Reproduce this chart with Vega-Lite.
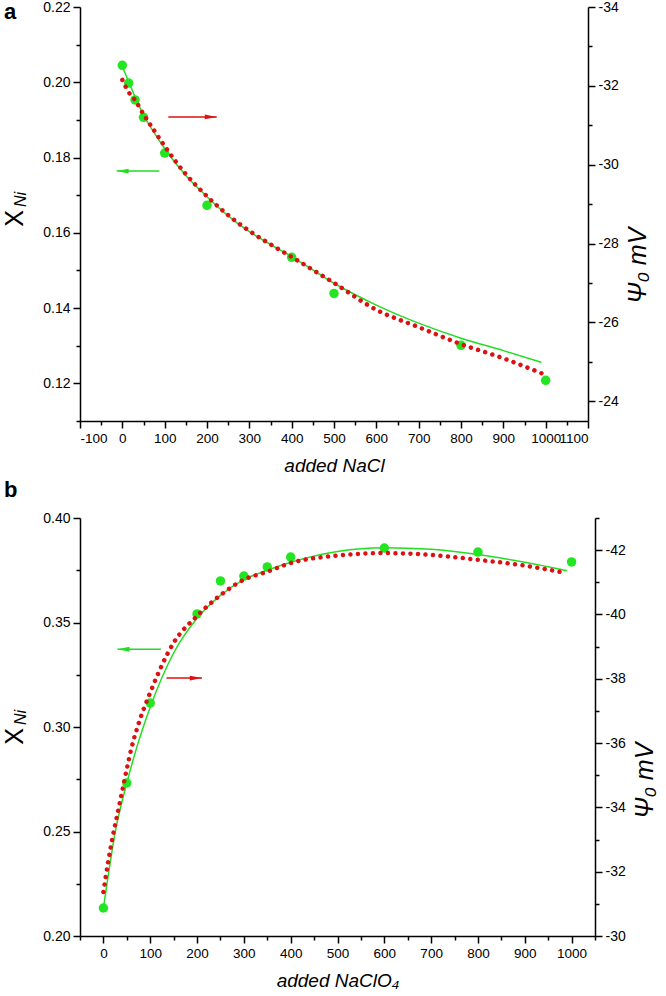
{
  "$schema": "https://vega.github.io/schema/vega-lite/v6.json",
  "background": "white",
  "padding": {"left": 2, "top": 0, "right": 0, "bottom": 0},
  "spacing": 97,
  "bounds": "flush",
  "config": {
    "font": "Liberation Sans",
    "view": {"stroke": null},
    "axis": {
      "grid": false,
      "domainColor": "black",
      "domainWidth": 1.5,
      "tickColor": "black",
      "tickWidth": 1.5,
      "labelFont": "Liberation Sans",
      "labelFontSize": 14,
      "labelColor": "black",
      "labelPadding": 3,
      "labelOverlap": false,
      "titleFont": "Liberation Sans",
      "titleFontWeight": "normal",
      "titleFontStyle": "italic",
      "titleColor": "black",
      "titleFontSize": 19
    },
    "axisX": {"labelFontSize": 13.5},
    "title": {"font": "Liberation Sans", "fontSize": 22, "fontWeight": "bold", "color": "black"}
  },
  "datasets": {
    "ptsA": [
      {"x": 0, "y": 0.2045}, {"x": 15, "y": 0.1998}, {"x": 30, "y": 0.1953},
      {"x": 50, "y": 0.1907}, {"x": 100, "y": 0.1812}, {"x": 200, "y": 0.1673},
      {"x": 400, "y": 0.1535}, {"x": 500, "y": 0.1439}, {"x": 800, "y": 0.1301},
      {"x": 1000, "y": 0.1208}
    ],
    "fitA": [
      {"x": 0, "y": 0.2042}, {"x": 25, "y": 0.1975}, {"x": 50, "y": 0.1913},
      {"x": 75, "y": 0.1866}, {"x": 100, "y": 0.1824}, {"x": 150, "y": 0.1752},
      {"x": 200, "y": 0.1696}, {"x": 250, "y": 0.1645}, {"x": 300, "y": 0.1603},
      {"x": 350, "y": 0.1569}, {"x": 400, "y": 0.1537}, {"x": 500, "y": 0.1466},
      {"x": 600, "y": 0.1408}, {"x": 700, "y": 0.136}, {"x": 800, "y": 0.132},
      {"x": 900, "y": 0.1287}, {"x": 990, "y": 0.1256}
    ],
    "psiA": [
      {"x": 0, "psi": -32.15}, {"x": 15, "psi": -31.84}, {"x": 30, "psi": -31.64},
      {"x": 50, "psi": -31.28}, {"x": 75, "psi": -30.87}, {"x": 100, "psi": -30.47},
      {"x": 150, "psi": -29.76}, {"x": 200, "psi": -29.2}, {"x": 250, "psi": -28.72},
      {"x": 300, "psi": -28.32}, {"x": 350, "psi": -27.98}, {"x": 400, "psi": -27.66},
      {"x": 500, "psi": -27.0}, {"x": 600, "psi": -26.32}, {"x": 700, "psi": -25.88},
      {"x": 800, "psi": -25.45}, {"x": 900, "psi": -25.09}, {"x": 990, "psi": -24.71}
    ],
    "arrowsA": [
      {"x": 87.3, "x2": -13.3, "y": 0.1764, "side": "left"},
      {"x": 108.6, "x2": 223, "y": 0.1908, "side": "right"}
    ],
    "headsA": [
      {"x": 0.7, "y": 0.1764, "side": "left"},
      {"x": 209, "y": 0.1908, "side": "right"}
    ],
    "ptsB": [
      {"x": 0, "y": 0.2134}, {"x": 50, "y": 0.2732}, {"x": 100, "y": 0.3115},
      {"x": 200, "y": 0.3541}, {"x": 250, "y": 0.3699}, {"x": 300, "y": 0.3722},
      {"x": 350, "y": 0.3766}, {"x": 400, "y": 0.3813}, {"x": 600, "y": 0.3856},
      {"x": 800, "y": 0.3837}, {"x": 1000, "y": 0.379}
    ],
    "fitB": [
      {"x": 0, "y": 0.2134}, {"x": 10, "y": 0.2285}, {"x": 25, "y": 0.2495},
      {"x": 50, "y": 0.2732}, {"x": 75, "y": 0.293}, {"x": 100, "y": 0.3095},
      {"x": 150, "y": 0.3354}, {"x": 200, "y": 0.352}, {"x": 250, "y": 0.363},
      {"x": 300, "y": 0.3705}, {"x": 350, "y": 0.375}, {"x": 400, "y": 0.3788},
      {"x": 500, "y": 0.384}, {"x": 600, "y": 0.3858}, {"x": 700, "y": 0.385},
      {"x": 800, "y": 0.3825}, {"x": 900, "y": 0.3788}, {"x": 990, "y": 0.3748}
    ],
    "psiB": [
      {"x": 0, "psi": -31.37}, {"x": 10, "psi": -32.3}, {"x": 20, "psi": -33.1},
      {"x": 30, "psi": -33.8}, {"x": 40, "psi": -34.5}, {"x": 50, "psi": -35.2},
      {"x": 60, "psi": -35.85}, {"x": 75, "psi": -36.6}, {"x": 100, "psi": -37.57},
      {"x": 150, "psi": -39.12}, {"x": 200, "psi": -39.95}, {"x": 250, "psi": -40.6},
      {"x": 300, "psi": -41.08}, {"x": 350, "psi": -41.33}, {"x": 400, "psi": -41.6},
      {"x": 500, "psi": -41.83}, {"x": 600, "psi": -41.91}, {"x": 700, "psi": -41.85},
      {"x": 800, "psi": -41.7}, {"x": 900, "psi": -41.52}, {"x": 987, "psi": -41.29}
    ],
    "arrowsB": [
      {"x": 122.7, "x2": 29.9, "y": 0.3372, "side": "left"},
      {"x": 134.7, "x2": 210.4, "y": 0.3234, "side": "right"}
    ],
    "headsB": [
      {"x": 42.9, "y": 0.3372, "side": "left"},
      {"x": 197.4, "y": 0.3234, "side": "right"}
    ]
  },
  "vconcat": [
    {
      "width": 508,
      "height": 414,
      "title": {"text": "a", "anchor": "start", "frame": "group", "dx": -76, "offset": -24},
      "encoding": {
        "x": {
          "field": "x",
          "type": "quantitative",
          "scale": {"domain": [-100, 1100], "nice": false, "zero": false},
          "axis": {
            "title": "added NaCl",
            "titlePadding": 12,
            "values": [-100, -50, 0, 50, 100, 150, 200, 250, 300, 350, 400, 450, 500, 550, 600, 650, 700, 750, 800, 850, 900, 950, 1000, 1050, 1100],
            "labelExpr": "datum.value % 100 == 0 ? (datum.value < 0 ? '-' : '') + abs(datum.value) : ''",
            "tickSize": {"condition": {"test": "datum.value % 100 == 0", "value": 7}, "value": 4}
          }
        }
      },
      "layer": [
        {
          "encoding": {
            "y": {
              "field": "y",
              "type": "quantitative",
              "scale": {"domain": [0.11, 0.22], "nice": false, "zero": false},
              "axis": {
                "orient": "left",
                "values": [0.11, 0.12, 0.13, 0.14, 0.15, 0.16, 0.17, 0.18, 0.19, 0.2, 0.21, 0.22],
                "labelExpr": "round(datum.value * 100) % 2 == 0 ? format(datum.value, '.2f') : ''",
                "tickSize": {"condition": {"test": "round(datum.value * 100) % 2 == 0", "value": 7}, "value": 4},
                "title": "X",
                "titleFontSize": 25,
                "titleFontStyle": "normal",
                "titleAngle": 270,
                "titleAlign": "center",
                "titleBaseline": "alphabetic",
                "titleX": -58,
                "titleY": 211
              }
            }
          },
          "layer": [
            {
              "data": {"name": "fitA"},
              "mark": {"type": "line", "color": "#22dd22", "strokeWidth": 1.5, "interpolate": "monotone"}
            },
            {
              "data": {"name": "ptsA"},
              "mark": {"type": "point", "filled": true, "color": "#22e622", "opacity": 1, "size": 90}
            }
          ]
        },
        {
          "data": {"name": "psiA"},
          "mark": {"type": "line", "color": "#dd1111", "strokeWidth": 4.5, "strokeCap": "round", "strokeDash": [0.01, 7.5], "interpolate": "monotone"},
          "encoding": {
            "y": {
              "field": "psi",
              "type": "quantitative",
              "scale": {"domain": [-23.5, -34], "nice": false, "zero": false},
              "axis": {
                "orient": "right",
                "values": [-34, -33, -32, -31, -30, -29, -28, -27, -26, -25, -24],
                "labelExpr": "datum.value % 2 == 0 ? '-' + abs(datum.value) : ''",
                "tickSize": {"condition": {"test": "datum.value % 2 == 0", "value": 7}, "value": 4},
                "title": "Ψ₀ mV",
                "titleFontSize": 25,
                "titleAngle": 270,
                "titleAlign": "center",
                "titleBaseline": "alphabetic",
                "titleX": 57,
                "titleY": 258
              }
            }
          }
        },
        {
          "encoding": {
            "y": {
              "field": "y",
              "type": "quantitative",
              "scale": {"domain": [0.11, 0.22], "nice": false, "zero": false},
              "axis": {
                "orient": "left",
                "labels": false,
                "ticks": false,
                "domain": false,
                "title": "Ni",
                "titleFontSize": 16,
                "titleFontStyle": "italic",
                "titleAngle": 270,
                "titleAlign": "center",
                "titleBaseline": "alphabetic",
                "titleX": -55,
                "titleY": 192
              }
            },
            "color": {
              "field": "side",
              "type": "nominal",
              "scale": {"domain": ["left", "right"], "range": ["#22dd22", "#dd1111"]},
              "legend": null
            }
          },
          "layer": [
            {
              "data": {"name": "arrowsA"},
              "mark": {"type": "rule", "strokeWidth": 1.5},
              "encoding": {"x2": {"field": "x2"}}
            },
            {
              "data": {"name": "headsA"},
              "mark": {"type": "point", "filled": true, "opacity": 1, "size": 144},
              "encoding": {
                "shape": {
                  "field": "side",
                  "type": "nominal",
                  "scale": {"domain": ["left", "right"], "range": ["M1,-0.4L-1,0L1,0.4Z", "M-1,-0.4L1,0L-1,0.4Z"]},
                  "legend": null
                }
              }
            }
          ]
        }
      ],
      "resolve": {"scale": {"y": "independent"}}
    },
    {
      "width": 515,
      "height": 418,
      "title": {"text": "b", "anchor": "start", "frame": "group", "dx": -76, "offset": 9},
      "encoding": {
        "x": {
          "field": "x",
          "type": "quantitative",
          "scale": {"domain": [-50, 1050], "nice": false, "zero": false},
          "axis": {
            "title": "added NaClO₄",
            "titlePadding": 12,
            "values": [-50, 0, 50, 100, 150, 200, 250, 300, 350, 400, 450, 500, 550, 600, 650, 700, 750, 800, 850, 900, 950, 1000, 1050],
            "labelExpr": "datum.value % 100 == 0 ? (datum.value < 0 ? '-' : '') + abs(datum.value) : ''",
            "tickSize": {"condition": {"test": "datum.value % 100 == 0", "value": 7}, "value": 4}
          }
        }
      },
      "layer": [
        {
          "encoding": {
            "y": {
              "field": "y",
              "type": "quantitative",
              "scale": {"domain": [0.2, 0.4], "nice": false, "zero": false},
              "axis": {
                "orient": "left",
                "values": [0.2, 0.225, 0.25, 0.275, 0.3, 0.325, 0.35, 0.375, 0.4],
                "labelExpr": "round(datum.value * 1000) % 50 == 0 ? format(datum.value, '.2f') : ''",
                "tickSize": {"condition": {"test": "round(datum.value * 1000) % 50 == 0", "value": 7}, "value": 4},
                "title": "X",
                "titleFontSize": 25,
                "titleFontStyle": "normal",
                "titleAngle": 270,
                "titleAlign": "center",
                "titleBaseline": "alphabetic",
                "titleX": -58,
                "titleY": 218
              }
            }
          },
          "layer": [
            {
              "data": {"name": "fitB"},
              "mark": {"type": "line", "color": "#22dd22", "strokeWidth": 1.5, "interpolate": "monotone"}
            },
            {
              "data": {"name": "ptsB"},
              "mark": {"type": "point", "filled": true, "color": "#22e622", "opacity": 1, "size": 90}
            }
          ]
        },
        {
          "data": {"name": "psiB"},
          "mark": {"type": "line", "color": "#dd1111", "strokeWidth": 4.5, "strokeCap": "round", "strokeDash": [0.01, 7.5], "interpolate": "monotone"},
          "encoding": {
            "y": {
              "field": "psi",
              "type": "quantitative",
              "scale": {"domain": [-30, -43], "nice": false, "zero": false},
              "axis": {
                "orient": "right",
                "values": [-43, -42, -41, -40, -39, -38, -37, -36, -35, -34, -33, -32, -31, -30],
                "labelExpr": "datum.value % 2 == 0 ? '-' + abs(datum.value) : ''",
                "tickSize": {"condition": {"test": "datum.value % 2 == 0", "value": 7}, "value": 4},
                "title": "Ψ₀ mV",
                "titleFontSize": 25,
                "titleAngle": 270,
                "titleAlign": "center",
                "titleBaseline": "alphabetic",
                "titleX": 57,
                "titleY": 262
              }
            }
          }
        },
        {
          "encoding": {
            "y": {
              "field": "y",
              "type": "quantitative",
              "scale": {"domain": [0.2, 0.4], "nice": false, "zero": false},
              "axis": {
                "orient": "left",
                "labels": false,
                "ticks": false,
                "domain": false,
                "title": "Ni",
                "titleFontSize": 16,
                "titleFontStyle": "italic",
                "titleAngle": 270,
                "titleAlign": "center",
                "titleBaseline": "alphabetic",
                "titleX": -55,
                "titleY": 199
              }
            },
            "color": {
              "field": "side",
              "type": "nominal",
              "scale": {"domain": ["left", "right"], "range": ["#22dd22", "#dd1111"]},
              "legend": null
            }
          },
          "layer": [
            {
              "data": {"name": "arrowsB"},
              "mark": {"type": "rule", "strokeWidth": 1.5},
              "encoding": {"x2": {"field": "x2"}}
            },
            {
              "data": {"name": "headsB"},
              "mark": {"type": "point", "filled": true, "opacity": 1, "size": 144},
              "encoding": {
                "shape": {
                  "field": "side",
                  "type": "nominal",
                  "scale": {"domain": ["left", "right"], "range": ["M1,-0.4L-1,0L1,0.4Z", "M-1,-0.4L1,0L-1,0.4Z"]},
                  "legend": null
                }
              }
            }
          ]
        }
      ],
      "resolve": {"scale": {"y": "independent"}}
    }
  ]
}
